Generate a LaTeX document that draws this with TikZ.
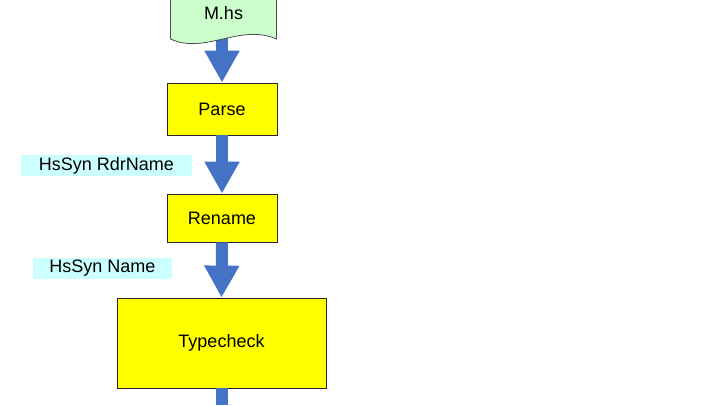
\documentclass[tikz,border=0pt]{standalone}
\usepackage{fontspec}
\setmainfont{Liberation Sans}
\usetikzlibrary{arrows.meta, backgrounds}
\definecolor{flowblue}{RGB}{68,114,196}
\definecolor{docgreen}{RGB}{204,255,204}
\definecolor{labelcyan}{RGB}{204,255,255}
\definecolor{stageyellow}{RGB}{255,255,0}

\begin{document}
\begin{tikzpicture}[x=1pt, y=-1pt,
  every node/.style={font=\fontsize{18}{21}\selectfont},
  stage/.style={draw=black!85, fill=stageyellow, line width=0.8pt, inner sep=0pt},
  label/.style={fill=labelcyan, inner sep=0pt, minimum height=21pt},
  flow/.style={draw=flowblue, line width=12pt,
    -{Triangle[width=33pt, length=32pt]}},
  shaft/.style={draw=flowblue, line width=12pt}]

\useasboundingbox (0,0) rectangle (703,405);

% source file
\draw[draw=black!70, fill=docgreen, line width=0.8pt] (170.5,-10) -- (276.5,-10) -- (276.5,39)
  .. controls (240,23) and (205,55) .. (170.5,39) -- cycle;
\node[minimum width=106pt, minimum height=36pt, inner sep=0pt] (mhs) at (223.5,18) {};
\node (mhslabel) at (223.5,13) {M.hs};

% passes
\node[stage, minimum width=110pt, minimum height=52pt] (parse) at (222,109) {Parse};
\node[stage, minimum width=110pt, minimum height=48pt] (rename) at (222,218) {Rename};
\node[stage, minimum width=209pt, minimum height=90pt] (typecheck) at (221.5,343) {Typecheck};

% intermediate types
\node[label, minimum width=171pt] (rdr) at (106.5,165.5) {HsSyn RdrName};
\node[label, minimum width=139pt] (nm) at (102.5,268.5) {HsSyn Name};

\coordinate (out) at (222,405);

\begin{scope}[on background layer]
\draw[flow] (mhs.south -| parse.north) -- (parse.north);
\end{scope}
\draw[flow] (parse.south) -- (rename.north);
\draw[flow] (rename.south) -- (typecheck.north);
\draw[shaft] (typecheck.south) -- (typecheck.south |- out);

\end{tikzpicture}
\end{document}
